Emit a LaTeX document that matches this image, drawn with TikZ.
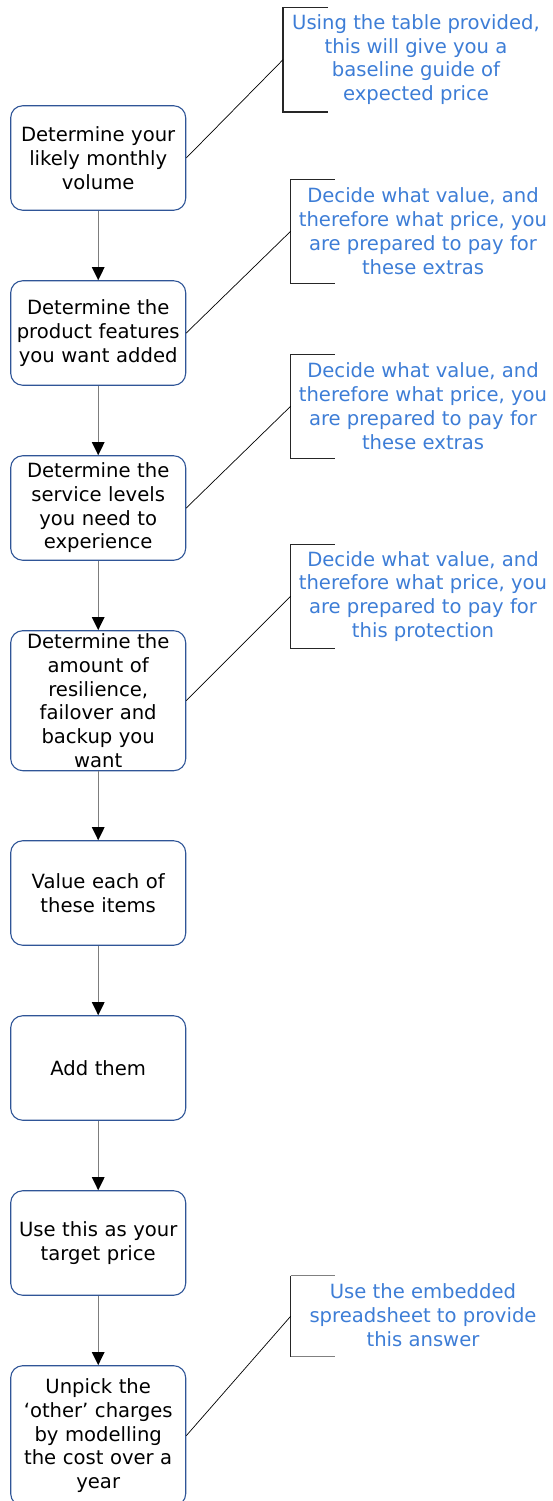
\documentclass[tikz,border=0pt]{standalone}
\usepackage{fontspec}
\setmainfont{DejaVu Sans}
\usetikzlibrary{positioning}
\usetikzlibrary{arrows.meta}
\usetikzlibrary{calc}
\definecolor{boxblue}{RGB}{47,85,151}
\definecolor{noteblue}{RGB}{61,125,214}
\definecolor{shaft}{RGB}{125,125,125}

\begin{document}
\begin{tikzpicture}[x=1pt, y=-1pt, >={Triangle[length=13pt,width=12.5pt,color=black]},
  stage/.style={draw=boxblue, line width=1.1pt, rounded corners=12pt, text width=171pt,
    inner xsep=2pt, inner ysep=0pt, minimum height=104.5pt, align=center,
    font=\fontsize{19.6}{23.7}\selectfont},
  tall/.style={minimum height=140pt},
  note/.style={text=noteblue, align=center, inner sep=0pt, font=\fontsize{19.6}{23.7}\selectfont},
  flow/.style={->, draw=shaft, line width=1.4pt},
  link/.style={black, line width=0.7pt},
  bracket/.style={black!85, line width=1.2pt}]

\useasboundingbox (0,0) rectangle (552,1501);

% the steps
\node [stage] (vol) at (98.2,158) {Determine your\\ likely monthly\\ volume};
\node [stage] (feat) at (98.2,333) {Determine the\\ product features\\ you want added};
\node [stage] (serv) at (98.2,508) {Determine the\\ service levels\\ you need to\\ experience};
\node [stage, tall] (resil) at (98.2,700.7) {Determine the\\ amount of\\ resilience,\\ failover and\\ backup you\\ want};
\node [stage] (value) at (98.2,893) {Value each of\\ these items};
\node [stage] (add) at (98.2,1068) {Add them};
\node [stage] (target) at (98.2,1243) {Use this as your\\ target price};
\node [stage, tall] (unpick) at (98.2,1435.7) {Unpick the\\ ‘other’ charges\\ by modelling\\ the cost over a\\ year};

\draw [flow] (vol) -- (feat);
\draw [flow] (feat) -- (serv);
\draw [flow] (serv) -- (resil);
\draw [flow] (resil) -- (value);
\draw [flow] (value) -- (add);
\draw [flow] (add) -- (target);
\draw [flow] (target) -- (unpick);

% the notes and their brackets
\coordinate (b1) at (283,59.7);
\node [note] (n1) at (416,59.7) {Using the table provided,\\ this will give you a\\ baseline guide of\\ expected price};
\draw [bracket] ($(b1)+(45,-52.3)$) -- ++(-45,0) -- ++(0,104.6) -- ++(45,0);

\coordinate (b2) at (290.7,231.2);
\node [note] (n2) at (423,231.2) {Decide what value, and\\ therefore what price, you\\ are prepared to pay for\\ these extras};
\draw [bracket] ($(b2)+(44,-52)$) -- ++(-44,0) -- ++(0,104) -- ++(44,0);

\coordinate (b3) at (290.7,406.2);
\node [note] (n3) at (423,406.2) {Decide what value, and\\ therefore what price, you\\ are prepared to pay for\\ these extras};
\draw [bracket] ($(b3)+(44,-52)$) -- ++(-44,0) -- ++(0,104) -- ++(44,0);

\coordinate (b4) at (290.7,596.2);
\node [note] (n4) at (423,596.2) {Decide what value, and\\ therefore what price, you\\ are prepared to pay for\\ this protection};
\draw [bracket] ($(b4)+(44,-52)$) -- ++(-44,0) -- ++(0,104) -- ++(44,0);

\coordinate (b5) at (290.7,1316.2);
\node [note] (n5) at (423,1315) {Use the embedded\\ spreadsheet to provide\\ this answer};
\draw [bracket] ($(b5)+(0,-40.5)$) -- ($(b5)+(0,40.5)$);
\draw [bracket, black!50] ($(b5)+(0,-40.5)$) -- ++(44,0);
\draw [bracket, black!50] ($(b5)+(0,40.5)$) -- ++(44,0);

\draw [link] (vol.east) -- (b1);
\draw [link] (feat.east) -- (b2);
\draw [link] (serv.east) -- (b3);
\draw [link] (resil.east) -- (b4);
\draw [link] (unpick.east) -- (b5);

\end{tikzpicture}
\end{document}
